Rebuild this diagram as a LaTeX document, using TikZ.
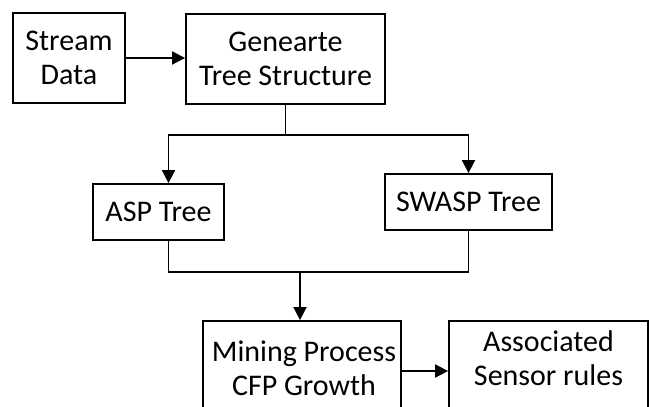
\documentclass[tikz,border=0pt]{standalone}
\usepackage{fontspec}
\setmainfont{Carlito}
\usetikzlibrary{arrows.meta}
\begin{document}
\begin{tikzpicture}[x=1pt,y=-1pt,
  box/.style={draw, line width=1.8pt, inner sep=0pt, align=center, font=\fontsize{30}{34}\selectfont},
  txt/.style={inner sep=0pt, align=center, font=\fontsize{30}{34}\selectfont},
  conn/.style={line width=1.8pt},
  arr/.style={conn, -{Triangle[length=13pt,width=13pt]}}]
\useasboundingbox (0,0) rectangle (651,407);
\clip (0,0) rectangle (651,407);
\fill[white] (0,0) rectangle (651,407);
\node[box, minimum width=112pt, minimum height=90pt] (stream) at (69,58) {Stream\\Data};
\node[box, minimum width=199pt, minimum height=90pt] (gen) at (285.5,59) {Genearte\\Tree Structure};
\node[box, minimum width=131pt, minimum height=56pt] (asp) at (158.5,212) {ASP Tree};
\node[box, minimum width=167pt, minimum height=56pt] (swasp) at (468.5,202) {SWASP Tree};
\node[box, minimum width=198pt, minimum height=100pt] (mining) at (302,371) {};
\node[box, minimum width=199pt, minimum height=100pt] (assoc) at (548.5,371) {};
\node[txt] (miningtxt) at (304,368) {Mining Process\\CFP Growth};
\node[txt] (assoctxt) at (548.5,358) {Associated\\Sensor rules};
\draw[arr] (stream.east) -- (stream.east -| gen.west);
\coordinate (split) at (287,135);
\coordinate (join) at (300,272);
\draw[conn] (gen.south) -- (gen.south |- split);
\draw[arr] (gen.south |- split) -| ([xshift=10pt]asp.north);
\draw[arr] (gen.south |- split) -| (swasp.north);
\draw[conn] ([xshift=10pt]asp.south) |- (join) -| (swasp.south);
\draw[arr] (join) -- (join |- mining.north);
\draw[arr] (mining.east) -- (mining.east -| assoc.west);
\end{tikzpicture}
\end{document}
